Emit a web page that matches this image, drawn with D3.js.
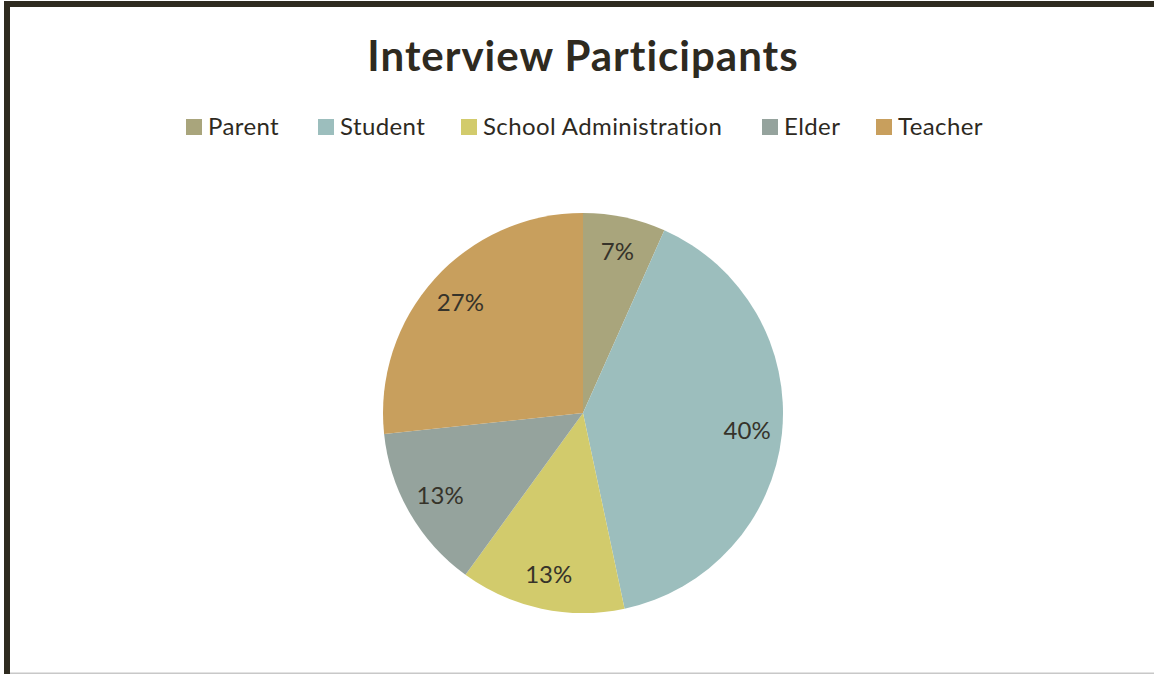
<!DOCTYPE html>
<html>
<head>
<meta charset="utf-8">
<script src="https://cdn.jsdelivr.net/npm/d3@7"></script>
<style>
  html, body { margin: 0; padding: 0; background: #ffffff; }
  svg { display: block; }
  text { font-variant-ligatures: none; font-feature-settings: "liga" 0; }
</style>
</head>
<body>
<svg id="chart" width="1154" height="674"></svg>
<script>
// Interview participants by role (number of people interviewed)
const categories = ["Parent", "Student", "School Administration", "Elder", "Teacher"];
const counts = [1, 6, 2, 2, 4];
const colors = ["#A9A57C", "#9CBEBD", "#D2CB6C", "#95A39D", "#C89F5D"];
const title = "Interview Participants";

const width = 1154, height = 674;
const svg = d3.select("#chart");
const font = "Lato, 'Open Sans', sans-serif";

// frame: heavy rule on the top and left, thin grey rule at the bottom
svg.append("rect").attr("x", 0).attr("y", 0).attr("width", width).attr("height", height).attr("fill", "#ffffff");
svg.append("rect").attr("x", 4).attr("y", 1).attr("width", width - 4).attr("height", 6).attr("fill", "#2f2b20");
svg.append("rect").attr("x", 4).attr("y", 1).attr("width", 6).attr("height", height - 1).attr("fill", "#2f2b20");
svg.append("rect").attr("x", 10).attr("y", 672.5).attr("width", width - 10).attr("height", 1.5).attr("fill", "#c8c8c8");

// title
svg.append("text")
  .attr("x", 583).attr("y", 71)
  .attr("text-anchor", "middle")
  .attr("font-family", font)
  .attr("font-weight", "bold")
  .attr("font-size", 42)
  .attr("letter-spacing", 1)
  .attr("fill", "#2e2a1f")
  .text(title);

// legend
const legendX = [186, 318, 461, 762, 876];
const legend = svg.append("g").attr("font-family", font).attr("font-size", 24).attr("letter-spacing", 0.4);
categories.forEach((c, i) => {
  const g = legend.append("g").attr("transform", `translate(${legendX[i]},0)`);
  g.append("rect").attr("x", 0).attr("y", 119).attr("width", 16).attr("height", 16).attr("fill", colors[i]);
  g.append("text").attr("x", 22).attr("y", 135).attr("fill", "#2e2a1f").text(c);
});

// pie
const cx = 583, cy = 413, r = 200;
const total = d3.sum(counts);
const pie = d3.pie().sort(null).value(d => d)(counts);
const arc = d3.arc().innerRadius(0).outerRadius(r);
const labelArc = d3.arc().innerRadius(165).outerRadius(165);
const fmt = d3.format(".0%");

const gPie = svg.append("g").attr("transform", `translate(${cx},${cy})`);
gPie.selectAll("path.slice")
  .data(pie)
  .join("path")
  .attr("class", "slice")
  .attr("d", arc)
  .attr("fill", (d, i) => colors[i]);

gPie.selectAll("text.pct")
  .data(pie)
  .join("text")
  .attr("class", "pct")
  .attr("transform", d => `translate(${labelArc.centroid(d)})`)
  .attr("text-anchor", "middle")
  .attr("dy", "0.36em")
  .attr("font-family", font)
  .attr("font-size", 24)
  .attr("fill", "#36332a")
  .text(d => fmt(d.data / total));
</script>
</body>
</html>
